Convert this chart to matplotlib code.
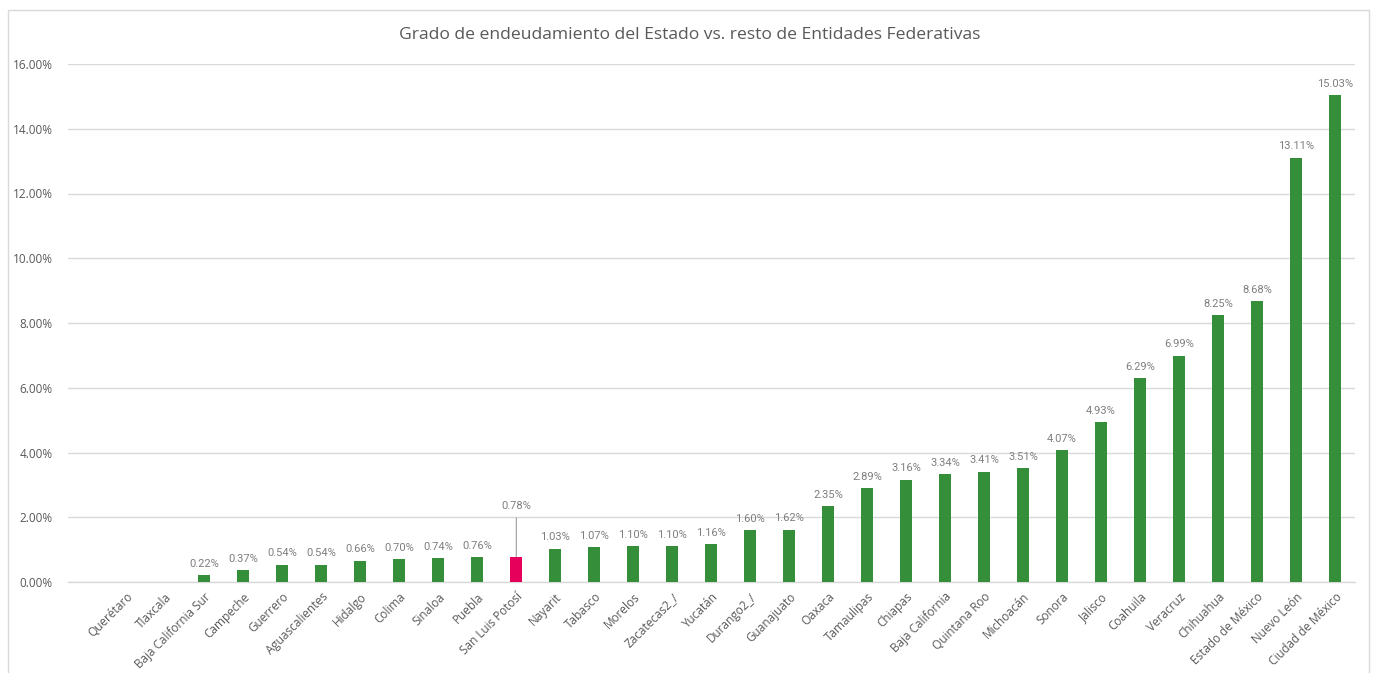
import matplotlib
matplotlib.use("Agg")
import matplotlib.pyplot as plt
from matplotlib.patches import Rectangle
from matplotlib.ticker import FuncFormatter, MultipleLocator

categories = ["Querétaro", "Tlaxcala", "Baja California Sur", "Campeche", "Guerrero",
              "Aguascalientes", "Hidalgo", "Colima", "Sinaloa", "Puebla",
              "San Luis Potosí", "Nayarit", "Tabasco", "Morelos", "Zacatecas2_/",
              "Yucatán", "Durango2_/", "Guanajuato", "Oaxaca", "Tamaulipas",
              "Chiapas", "Baja California", "Quintana Roo", "Michoacán", "Sonora",
              "Jalisco", "Coahuila", "Veracruz", "Chihuahua", "Estado de México",
              "Nuevo León", "Ciudad de México"]
values = [None, None, 0.22, 0.37, 0.54, 0.54, 0.66, 0.70, 0.74, 0.76,
          0.78, 1.03, 1.07, 1.10, 1.10, 1.16, 1.60, 1.62, 2.35, 2.89,
          3.16, 3.34, 3.41, 3.51, 4.07, 4.93, 6.29, 6.99, 8.25, 8.68,
          13.11, 15.03]
highlight = "San Luis Potosí"
title = "Grado de endeudamiento del Estado vs. resto de Entidades Federativas"

GREEN = "#348E3A"
PINK = "#E6005C"
GRAY_TXT = "#595959"
LABEL_TXT = "#7F7F7F"
GRID = "#D9D9D9"

main_font = ["Open Sans", "DejaVu Sans"]
narrow_font = ["Liberation Sans Narrow", "Roboto", "DejaVu Sans"]

fig = plt.figure(figsize=(13.75, 6.73), dpi=100)
fig.patches.append(Rectangle((8 / 1375, -0.01), (1369 - 8) / 1375, 1 - 10 / 673 + 0.01,
                             transform=fig.transFigure, fill=False,
                             edgecolor=GRID, linewidth=1))
ax = fig.add_axes([68 / 1375, (673 - 582) / 673, (1354.5 - 68) / 1375, (582 - 64) / 673])

xs = list(range(len(categories)))
heights = [v if v is not None else 0 for v in values]
colors = [PINK if c == highlight else GREEN for c in categories]
ax.bar(xs, heights, width=0.31, color=colors, zorder=3)

for x, v, c in zip(xs, values, categories):
    if v is None:
        continue
    if c == highlight:
        ax.annotate(f"{v:.2f}%", xy=(x, v), xytext=(0, 33), textcoords="offset points",
                    ha="center", va="bottom", fontsize=8, color=LABEL_TXT,
                    family=narrow_font,
                    arrowprops=dict(arrowstyle="-", color="#A6A6A6", lw=0.9,
                                    shrinkA=3, shrinkB=0))
    else:
        ax.annotate(f"{v:.2f}%", xy=(x, v), xytext=(0, 4.5), textcoords="offset points",
                    ha="center", va="bottom", fontsize=8, color=LABEL_TXT,
                    family=narrow_font)

ax.set_xlim(-1.5, len(categories) - 0.5)
ax.set_ylim(0, 16)
ax.yaxis.set_major_locator(MultipleLocator(2))
ax.yaxis.set_major_formatter(FuncFormatter(lambda y, _: f"{y:.2f}%"))
ax.set_xticks(xs)
ax.set_xticklabels(categories, rotation=45, ha="right", rotation_mode="anchor",
                   fontsize=8.5, color=GRAY_TXT, family=main_font)
for lab in ax.get_yticklabels():
    lab.set_family(main_font)
ax.tick_params(axis="y", labelsize=8.5, labelcolor=GRAY_TXT, length=0, pad=11)
ax.tick_params(axis="x", length=0, pad=6)

ax.grid(axis="y", color=GRID, linewidth=1, zorder=0)
for s in ["top", "right", "left"]:
    ax.spines[s].set_visible(False)
ax.spines["bottom"].set_color(GRID)
ax.spines["bottom"].set_linewidth(1)

fig.text(690 / 1375, 1 - 35 / 673, title, ha="center", va="center",
         fontsize=12.6, color=GRAY_TXT, family=main_font)

fig.savefig("out.png", dpi=100, facecolor="white")
